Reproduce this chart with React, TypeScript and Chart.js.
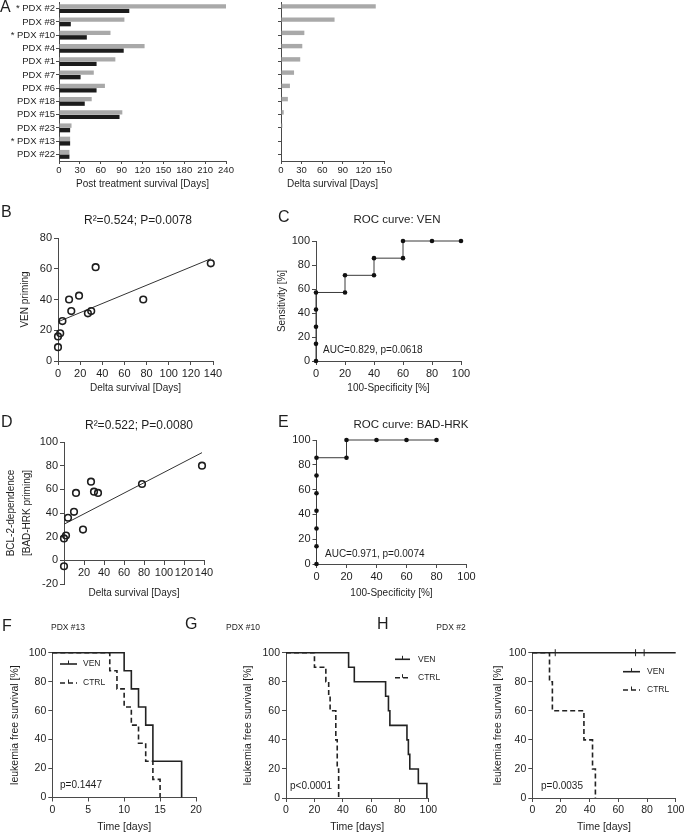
import React, { useEffect, useRef } from 'react';
import { Chart, registerables } from 'chart.js';

Chart.register(...registerables);

const FONT = "'Liberation Sans', Arial, Helvetica, sans-serif";
const INK = '#1e1e1e';
const AXIS = '#4a4a4a';
const GRAY = '#a9a9a9';
const BLACK = '#1c1c1c';

// ---------------- DATA ----------------
// Panel A
const pdxLabels = ['* PDX #2', 'PDX #8', '* PDX #10', 'PDX #4', 'PDX #1', 'PDX #7', 'PDX #6', 'PDX #18', 'PDX #15', 'PDX #23', '* PDX #13', 'PDX #22'];
const survivalVen = [240, 94, 74, 123, 81, 50, 66, 47, 91, 18, 16, 15];
const survivalCtrl = [101, 17, 40, 93, 54, 31, 54, 37, 87, 16, 16, 15];
const deltaSurvival = [138, 78, 34, 31, 28, 19, 13, 10, 4, 2, 0, 0];
const deltaSpacer = [null, null, null, null, null, null, null, null, null, null, null, null];
const survTicksMax = 240;
const deltaTicksMax = 150;

// Panel B
const venDelta = [0, 0, 2, 4, 10, 12, 19, 27, 30, 34, 77, 138];
const venPriming = [16, 9, 18, 26, 40, 32.5, 42.5, 31, 32.5, 61, 40, 63.5];
const venFitX = [0, 138];
const venFitY = [25.5, 66.5];

// Panel C
const rocVenFpr = [0, 0, 0, 0, 0, 20, 20, 40, 40, 60, 60, 80, 100];
const rocVenTpr = [0, 14.3, 28.6, 42.9, 57.1, 57.1, 71.4, 71.4, 85.7, 85.7, 100, 100, 100];

// Panel D
const badDelta = [0, 0, 2, 4, 10, 12, 19, 27, 30, 34, 78, 138];
const badPriming = [18.5, -5, 21, 36, 41, 57, 26, 66.5, 58, 57, 64.5, 80];
const badFitX = [0, 138];
const badFitY = [30.5, 91];

// Panel E
const rocBadFpr = [0, 0, 0, 0, 0, 0, 0, 20, 20, 40, 60, 80];
const rocBadTpr = [0, 14.3, 28.6, 42.9, 57.1, 71.4, 85.7, 85.7, 100, 100, 100, 100];

// Panel F (PDX #13)
const f13VenT = [0, 10, 11, 12, 13, 14, 18];
const f13VenS = [100, 87.5, 75, 62.5, 50, 25, 0];
const f13CtrlT = [0, 8, 9, 10, 11, 12, 13, 14, 15];
const f13CtrlS = [100, 87.5, 75, 62.5, 50, 37.5, 25, 12.5, 0];

// Panel G (PDX #10)
const g10VenT = [0, 44, 48, 70, 72, 73, 85, 86, 87, 93, 99];
const g10VenS = [100, 90, 80, 70, 60, 50, 40, 30, 20, 10, 0];
const g10CtrlT = [0, 20, 28, 30, 31, 35, 36, 37];
const g10CtrlS = [100, 90, 80, 70, 60, 40, 20, 0];

// Panel H (PDX #2)
const h2VenT = [0, 100];
const h2VenS = [100, 100];
const h2CensorT = [16, 72, 78];
const h2CensorS = [100, 100, 100];
const h2CtrlT = [0, 12, 14, 36, 42, 44];
const h2CtrlS = [100, 80, 60, 40, 20, 0];

// ---------------- HELPERS ----------------
type Box = { x: number; y: number; w: number; h: number };
type Area = { l: number; t: number; r: number; b: number };
type Txt = { t: string; x: number; y: number; s: number; a?: CanvasTextAlign };

const pts = (xs: number[], ys: number[]) => xs.map((x, i) => ({ x, y: ys[i] }));

function frame(box: Box, area: Area) {
  return {
    padding: { left: 0, top: area.t - box.y, right: box.x + box.w - area.r, bottom: 0 },
    yw: area.l - box.x,
    xh: box.y + box.h - area.b,
  };
}

function axis(kind: 'x' | 'y', o: any) {
  const size = o.size;
  const ticks: any = {
    autoSkip: false,
    maxRotation: 0,
    font: { size: o.fs, family: FONT },
    color: INK,
    padding: o.tp ?? 2,
    display: o.hideLabels ? false : true,
  };
  if (o.step !== undefined) ticks.stepSize = o.step;
  if (o.cb) ticks.callback = o.cb;
  const cfg: any = {
    type: o.type || 'linear',
    position: o.position || (kind === 'x' ? 'bottom' : 'left'),
    afterFit: (s: any) => {
      if (kind === 'x') s.height = size;
      else s.width = size;
      s.paddingLeft = 0;
      s.paddingRight = 0;
      s.paddingTop = 0;
      s.paddingBottom = 0;
    },
    ticks,
    grid: { display: true, drawOnChartArea: false, drawTicks: true, tickLength: o.tl ?? 4, color: AXIS, lineWidth: 1, offset: false },
    border: { display: true, color: AXIS, width: 1 },
    title: o.title
      ? {
          display: true,
          text: o.title,
          font: { size: o.tfs ?? 10, family: FONT, lineHeight: o.tlh ?? 1.2 },
          color: INK,
          padding: kind === 'x' ? { top: 0, bottom: o.tpad } : { top: o.tpad, bottom: 0 },
        }
      : { display: false },
  };
  if (o.min !== undefined) cfg.min = o.min;
  if (o.max !== undefined) cfg.max = o.max;
  return cfg;
}

function overlay(box: Box, items: Txt[]) {
  return {
    id: 'overlay',
    afterDraw(chart: any) {
      const ctx = chart.ctx;
      items.forEach((it) => {
        ctx.save();
        ctx.font = `${it.s}px ${FONT}`;
        ctx.fillStyle = INK;
        ctx.textAlign = it.a || 'left';
        ctx.textBaseline = 'middle';
        ctx.fillText(it.t, it.x - box.x, it.y - box.y);
        ctx.restore();
      });
    },
  };
}

function kmLegend(box: Box, spec: { x1: number; x2: number; tx: number; ys: number[]; fs: number }) {
  return {
    id: 'kmLegend',
    afterDraw(chart: any) {
      const ctx = chart.ctx;
      const ds = chart.data.datasets.filter((d: any) => d.inLegend);
      ds.forEach((d: any, i: number) => {
        const y = spec.ys[i] - box.y;
        const x1 = spec.x1 - box.x;
        const x2 = spec.x2 - box.x;
        ctx.save();
        ctx.strokeStyle = d.borderColor;
        ctx.lineWidth = d.borderWidth;
        ctx.setLineDash(d.borderDash || []);
        ctx.beginPath();
        ctx.moveTo(x1, y);
        ctx.lineTo(x2, y);
        ctx.stroke();
        ctx.setLineDash([]);
        ctx.lineWidth = 1;
        const xm = (x1 + x2) / 2;
        ctx.beginPath();
        ctx.moveTo(xm, y);
        ctx.lineTo(xm, y - 3.5);
        ctx.stroke();
        ctx.font = `${spec.fs}px ${FONT}`;
        ctx.fillStyle = INK;
        ctx.textAlign = 'left';
        ctx.textBaseline = 'middle';
        ctx.fillText(d.label, spec.tx - box.x, y);
        ctx.restore();
      });
    },
  };
}

const basePlugins = { legend: { display: false }, tooltip: { enabled: false }, title: { display: false } };

function baseOptions(padding: any, scales: any) {
  return {
    responsive: false,
    animation: false,
    devicePixelRatio: 1,
    events: [],
    layout: { padding },
    plugins: basePlugins,
    scales,
  };
}

// ---------------- CHART CONFIGS ----------------
const boxAL: Box = { x: 0, y: 0, w: 240, h: 196 };
const areaAL: Area = { l: 59, t: 2, r: 226, b: 161 };
function cfgAL() {
  const f = frame(boxAL, areaAL);
  return {
    type: 'bar',
    data: {
      labels: pdxLabels,
      datasets: [
        { label: 'VEN', data: survivalVen, backgroundColor: GRAY, categoryPercentage: 0.68, barPercentage: 0.98 },
        { label: 'CTRL', data: survivalCtrl, backgroundColor: BLACK, categoryPercentage: 0.68, barPercentage: 0.98 },
      ],
    },
    options: {
      ...baseOptions(f.padding, {
        x: axis('x', { size: f.xh, min: 0, max: survTicksMax, step: 30, fs: 9.5, tl: 3, tp: 1, title: 'Post treatment survival [Days]', tfs: 10, tpad: 6 }),
        y: axis('y', { type: 'category', size: f.yw, fs: 9.5, tl: 3, tp: 1 }),
      }),
      indexAxis: 'y',
    },
    plugins: [overlay(boxAL, [{ t: 'A', x: 0, y: 8, s: 16 }])],
  };
}

const boxAR: Box = { x: 240, y: 0, w: 200, h: 196 };
const areaAR: Area = { l: 281, t: 2, r: 384, b: 161 };
function cfgAR() {
  const f = frame(boxAR, areaAR);
  return {
    type: 'bar',
    data: {
      labels: pdxLabels,
      datasets: [
        { label: 'Delta survival', data: deltaSurvival, backgroundColor: GRAY, categoryPercentage: 0.68, barPercentage: 0.98 },
        { label: '', data: deltaSpacer, backgroundColor: GRAY, categoryPercentage: 0.68, barPercentage: 0.98 },
      ],
    },
    options: {
      ...baseOptions(f.padding, {
        x: axis('x', { size: f.xh, min: 0, max: deltaTicksMax, step: 30, fs: 9.5, tl: 3, tp: 1, title: 'Delta survival [Days]', tfs: 10, tpad: 6 }),
        y: axis('y', { type: 'category', size: f.yw, fs: 9.5, tl: 3, tp: 1, hideLabels: true }),
      }),
      indexAxis: 'y',
    },
  };
}

const boxB: Box = { x: 0, y: 200, w: 250, h: 200 };
const areaB: Area = { l: 58, t: 238, r: 213, b: 361 };
function cfgB() {
  const f = frame(boxB, areaB);
  return {
    type: 'scatter',
    data: {
      datasets: [
        { label: 'PDX', data: pts(venDelta, venPriming), pointRadius: 3.3, pointBorderWidth: 1.6, borderColor: INK, pointBorderColor: INK, pointBackgroundColor: 'rgba(0,0,0,0)', clip: false },
        { label: 'fit', data: pts(venFitX, venFitY), showLine: true, pointRadius: 0, borderColor: '#333', borderWidth: 1, clip: false },
      ],
    },
    options: baseOptions(f.padding, {
      x: axis('x', { size: f.xh, min: 0, max: 140, step: 20, fs: 11, title: 'Delta survival [Days]', tfs: 10, tpad: 6 }),
      y: axis('y', { size: f.yw, min: 0, max: 80, step: 20, fs: 11, title: 'VEN priming', tfs: 10, tpad: 19 }),
    }),
    plugins: [overlay(boxB, [
      { t: 'B', x: 1, y: 213, s: 16 },
      { t: 'R²=0.524; P=0.0078', x: 138, y: 221, s: 12, a: 'center' },
    ])],
  };
}

const boxC: Box = { x: 270, y: 200, w: 210, h: 200 };
const areaC: Area = { l: 316, t: 241, r: 461, b: 361 };
function cfgC() {
  const f = frame(boxC, areaC);
  return {
    type: 'scatter',
    data: {
      datasets: [
        { label: 'ROC', data: pts(rocVenFpr, rocVenTpr), showLine: true, borderColor: '#3a3a3a', borderWidth: 1, pointRadius: 2.3, pointBackgroundColor: '#111', pointBorderWidth: 0, clip: false },
      ],
    },
    options: baseOptions(f.padding, {
      x: axis('x', { size: f.xh, min: 0, max: 100, step: 20, fs: 11, title: '100-Specificity [%]', tfs: 10, tpad: 6 }),
      y: axis('y', { size: f.yw, min: 0, max: 100, step: 20, fs: 11, title: 'Sensitivity [%]', tfs: 10, tpad: 6 }),
    }),
    plugins: [overlay(boxC, [
      { t: 'C', x: 278, y: 218, s: 16 },
      { t: 'ROC curve: VEN', x: 397, y: 220, s: 11.5, a: 'center' },
      { t: 'AUC=0.829, p=0.0618', x: 323, y: 350, s: 10 },
    ])],
  };
}

// Panel D: the x axis crosses the y axis at y = 0, so it takes no layout room;
// the room below the plot is reserved with layout padding instead.
const boxD: Box = { x: 0, y: 400, w: 250, h: 223 };
const areaD: Area = { l: 64, t: 442, r: 204, b: 584 };
function cfgD() {
  const f = frame(boxD, areaD);
  const padding = { ...f.padding, bottom: f.xh };
  return {
    type: 'scatter',
    data: {
      datasets: [
        { label: 'PDX', data: pts(badDelta, badPriming), pointRadius: 3.3, pointBorderWidth: 1.6, borderColor: INK, pointBorderColor: INK, pointBackgroundColor: 'rgba(0,0,0,0)', clip: false },
        { label: 'fit', data: pts(badFitX, badFitY), showLine: true, pointRadius: 0, borderColor: '#333', borderWidth: 1, clip: false },
      ],
    },
    options: baseOptions(padding, {
      x: axis('x', { size: f.xh, position: { y: 0 }, min: 0, max: 140, step: 20, fs: 11, cb: (v: any) => (v === 0 ? '' : String(v)), title: 'Delta survival [Days]', tfs: 10, tpad: 0 }),
      y: axis('y', { size: f.yw, min: -20, max: 100, step: 20, fs: 11, title: ['BCL-2-dependence', '[BAD-HRK priming]'], tfs: 10, tlh: 1.65, tpad: 2.75 }),
    }),
    plugins: [overlay(boxD, [
      { t: 'D', x: 1, y: 423, s: 16 },
      { t: 'R²=0.522; P=0.0080', x: 139, y: 426, s: 12, a: 'center' },
    ])],
  };
}

const boxE: Box = { x: 270, y: 400, w: 215, h: 200 };
const areaE: Area = { l: 316.5, t: 440, r: 466.5, b: 564 };
function cfgE() {
  const f = frame(boxE, areaE);
  return {
    type: 'scatter',
    data: {
      datasets: [
        { label: 'ROC', data: pts(rocBadFpr, rocBadTpr), showLine: true, borderColor: '#3a3a3a', borderWidth: 1, pointRadius: 2.3, pointBackgroundColor: '#111', pointBorderWidth: 0, clip: false },
      ],
    },
    options: baseOptions(f.padding, {
      x: axis('x', { size: f.xh, min: 0, max: 100, step: 20, fs: 11, title: '100-Specificity [%]', tfs: 10, tpad: 1 }),
      y: axis('y', { size: f.yw, min: 0, max: 100, step: 20, fs: 11 }),
    }),
    plugins: [overlay(boxE, [
      { t: 'E', x: 278, y: 423, s: 16 },
      { t: 'ROC curve: BAD-HRK', x: 411, y: 425, s: 11.5, a: 'center' },
      { t: 'AUC=0.971, p=0.0074', x: 325, y: 554, s: 10 },
    ])],
  };
}

function kmDatasets(venT: number[], venS: number[], ctrlT: number[], ctrlS: number[], extra: any[] = []) {
  return [
    { label: 'VEN', inLegend: true, data: pts(venT, venS), showLine: true, stepped: true, pointRadius: 0, borderColor: '#222', borderWidth: 1.6, clip: false },
    { label: 'CTRL', inLegend: true, data: pts(ctrlT, ctrlS), showLine: true, stepped: true, pointRadius: 0, borderColor: '#222', borderWidth: 1.6, borderDash: [5, 3], clip: false },
    ...extra,
  ];
}

function kmScales(f: any, max: number, step: number, ytpad: number) {
  return {
    x: axis('x', { size: f.xh, min: 0, max, step, fs: 10.5, title: 'Time [days]', tfs: 10.5, tpad: 0 }),
    y: axis('y', { size: f.yw, min: 0, max: 100, step: 20, fs: 10.5, title: 'leukemia free survival [%]', tfs: 10.5, tpad: ytpad }),
  };
}

const boxF: Box = { x: 0, y: 612, w: 225, h: 221 };
const areaF: Area = { l: 52.3, t: 652.7, r: 196, b: 797.5 };
function cfgF() {
  const f = frame(boxF, areaF);
  return {
    type: 'scatter',
    data: { datasets: kmDatasets(f13VenT, f13VenS, f13CtrlT, f13CtrlS) },
    options: baseOptions(f.padding, kmScales(f, 20, 5, 8.7)),
    plugins: [
      overlay(boxF, [
        { t: 'F', x: 2, y: 627, s: 16 },
        { t: 'PDX #13', x: 68, y: 628, s: 8.5, a: 'center' },
        { t: 'p=0.1447', x: 60, y: 785, s: 10 },
      ]),
      kmLegend(boxF, { x1: 60, x2: 77, tx: 83, ys: [664, 683], fs: 8.5 }),
    ],
  };
}

const boxG: Box = { x: 180, y: 612, w: 265, h: 221 };
const areaG: Area = { l: 286, t: 652.7, r: 428.3, b: 798 };
function cfgG() {
  const f = frame(boxG, areaG);
  return {
    type: 'scatter',
    data: { datasets: kmDatasets(g10VenT, g10VenS, g10CtrlT, g10CtrlS) },
    options: baseOptions(f.padding, kmScales(f, 100, 20, 61.7)),
    plugins: [
      overlay(boxG, [
        { t: 'G', x: 185, y: 625, s: 16 },
        { t: 'PDX #10', x: 243, y: 628, s: 8.5, a: 'center' },
        { t: 'p<0.0001', x: 290, y: 786, s: 10 },
      ]),
      kmLegend(boxG, { x1: 395, x2: 410, tx: 418, ys: [659.3, 677.7], fs: 8.5 }),
    ],
  };
}

const boxH: Box = { x: 370, y: 612, w: 315, h: 221 };
const areaH: Area = { l: 532.3, t: 652.7, r: 675.7, b: 798 };
function cfgH() {
  const f = frame(boxH, areaH);
  const censor = {
    label: 'censored', data: pts(h2CensorT, h2CensorS), showLine: false, pointStyle: 'line', rotation: 90,
    pointRadius: 3.5, pointBorderColor: '#222', borderColor: '#222', pointBorderWidth: 1, clip: false,
  };
  return {
    type: 'scatter',
    data: { datasets: kmDatasets(h2VenT, h2VenS, h2CtrlT, h2CtrlS, [censor]) },
    options: baseOptions(f.padding, kmScales(f, 100, 20, 121.7)),
    plugins: [
      overlay(boxH, [
        { t: 'H', x: 377, y: 625, s: 16 },
        { t: 'PDX #2', x: 451, y: 628, s: 8.5, a: 'center' },
        { t: 'p=0.0035', x: 541, y: 786, s: 10 },
      ]),
      kmLegend(boxH, { x1: 623, x2: 640, tx: 647, ys: [671.7, 690], fs: 8.5 }),
    ],
  };
}

// ---------------- COMPONENTS ----------------
function ChartBox({ box, make }: { box: Box; make: () => any }) {
  const ref = useRef<HTMLCanvasElement | null>(null);
  useEffect(() => {
    if (!ref.current) return;
    const chart = new Chart(ref.current, make());
    return () => chart.destroy();
  }, []);
  return (
    <canvas
      ref={ref}
      width={box.w}
      height={box.h}
      style={{ position: 'absolute', left: box.x, top: box.y, width: box.w, height: box.h }}
    />
  );
}

export default function App() {
  return (
    <div style={{ position: 'absolute', left: 0, top: 0, width: 685, height: 833, background: '#fff', overflow: 'hidden' }}>
      <ChartBox box={boxAL} make={cfgAL} />
      <ChartBox box={boxAR} make={cfgAR} />
      <ChartBox box={boxB} make={cfgB} />
      <ChartBox box={boxC} make={cfgC} />
      <ChartBox box={boxD} make={cfgD} />
      <ChartBox box={boxE} make={cfgE} />
      <ChartBox box={boxF} make={cfgF} />
      <ChartBox box={boxG} make={cfgG} />
      <ChartBox box={boxH} make={cfgH} />
    </div>
  );
}
